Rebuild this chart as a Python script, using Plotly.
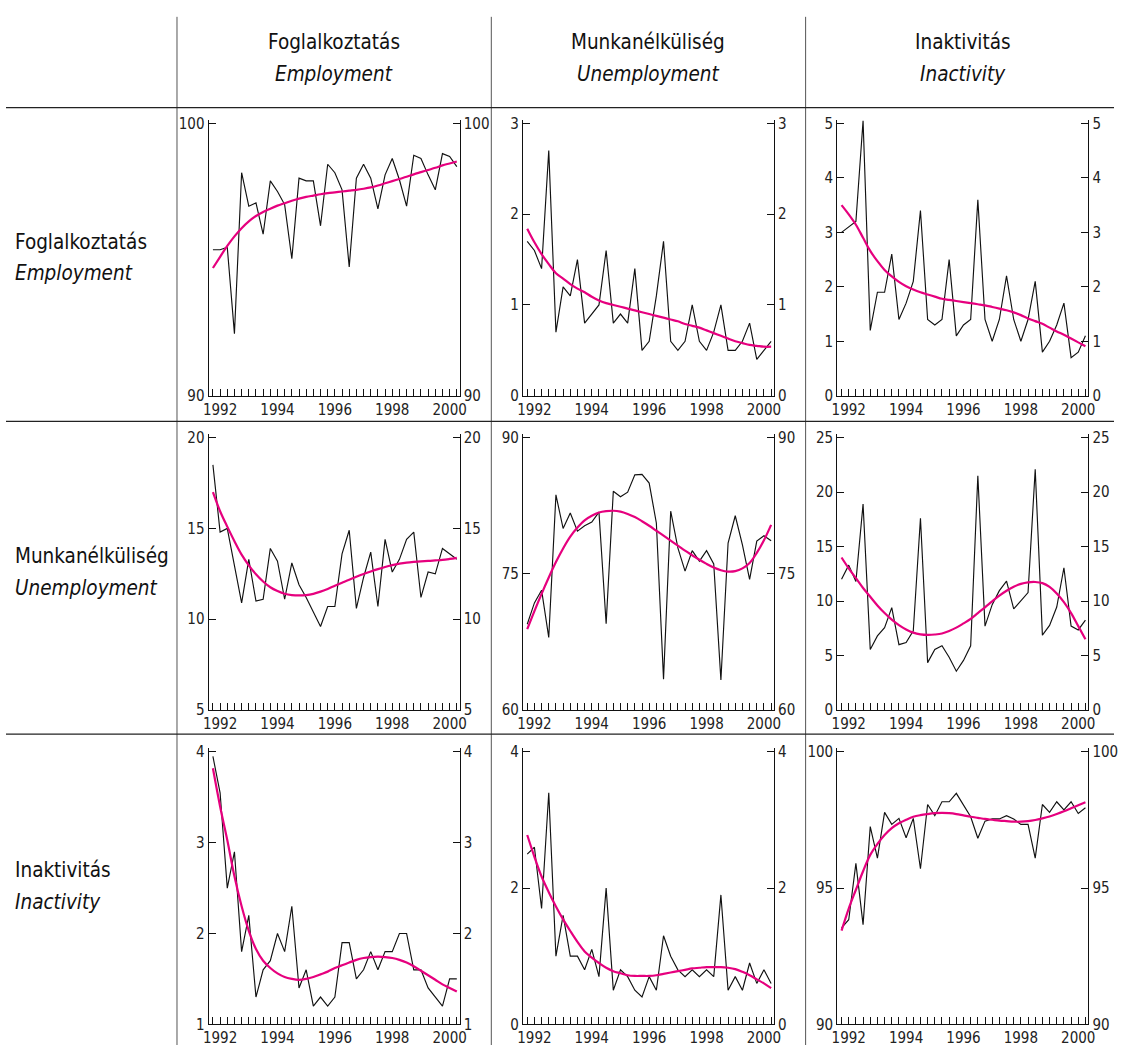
import plotly.graph_objects as go

# ---------------- data ----------------
quarters = list(range(35))  # 1992Q1 ... 2000Q3
year_tick_pos = [1, 9, 17, 25, 33]
year_labels = ["1992", "1994", "1996", "1998", "2000"]

row_titles = [("Foglalkoztatás", "Employment"),
              ("Munkanélküliség", "Unemployment"),
              ("Inaktivitás", "Inactivity")]
col_titles = [("Foglalkoztatás", "Employment"),
              ("Munkanélküliség", "Unemployment"),
              ("Inaktivitás", "Inactivity")]

# row 1: from Employment
emp_emp = [95.36, 95.36, 95.45, 92.28, 98.19, 96.96, 97.08, 95.93, 97.89, 97.50,
           97.02, 95.03, 97.99, 97.89, 97.89, 96.24, 98.50, 98.19, 97.56, 94.73,
           97.99, 98.50, 97.99, 96.86, 98.11, 98.71, 97.93, 96.96, 98.83, 98.71,
           98.11, 97.56, 98.89, 98.79, 98.41]
emp_emp_trend = [94.69, 95.1, 95.5, 95.85, 96.15, 96.4, 96.6, 96.75, 96.87, 96.98,
                 97.07, 97.16, 97.24, 97.3, 97.35, 97.4, 97.44, 97.47, 97.5, 97.53,
                 97.56, 97.6, 97.65, 97.72, 97.8, 97.88, 97.96, 98.04, 98.13, 98.21,
                 98.29, 98.37, 98.46, 98.53, 98.6]
emp_unemp = [1.7, 1.6, 1.4, 2.7, 0.7, 1.2, 1.1, 1.5, 0.8, 0.9,
             1.0, 1.6, 0.8, 0.9, 0.8, 1.4, 0.5, 0.6, 1.1, 1.7,
             0.6, 0.5, 0.6, 1.0, 0.6, 0.5, 0.7, 1.0, 0.5, 0.5,
             0.6, 0.8, 0.4, 0.5, 0.6]
emp_unemp_trend = [1.84, 1.69, 1.56, 1.45, 1.35, 1.29, 1.23, 1.18, 1.14, 1.09,
                   1.05, 1.02, 1.0, 0.98, 0.96, 0.94, 0.92, 0.9, 0.88, 0.86,
                   0.84, 0.82, 0.79, 0.77, 0.75, 0.72, 0.69, 0.66, 0.63, 0.6,
                   0.58, 0.56, 0.55, 0.54, 0.54]
emp_inact = [3.0, 3.1, 3.2, 5.05, 1.2, 1.9, 1.9, 2.6, 1.4, 1.7,
             2.1, 3.4, 1.4, 1.3, 1.4, 2.5, 1.1, 1.3, 1.4, 3.6,
             1.4, 1.0, 1.4, 2.2, 1.4, 1.0, 1.4, 2.1, 0.8, 1.0,
             1.3, 1.7, 0.7, 0.8, 1.1]
emp_inact_trend = [3.5, 3.33, 3.14, 2.9, 2.66, 2.47, 2.31, 2.19, 2.09, 2.01,
                   1.95, 1.9, 1.86, 1.82, 1.78, 1.76, 1.74, 1.72, 1.7, 1.68,
                   1.66, 1.63, 1.6, 1.57, 1.53, 1.48, 1.42, 1.37, 1.32, 1.25,
                   1.18, 1.12, 1.05, 0.98, 0.91]

# row 2: from Unemployment
unemp_emp = [18.5, 14.8, 15.0, 12.9, 10.9, 13.3, 11.0, 11.1, 13.9, 13.2,
             11.1, 13.1, 11.9, 11.2, 10.4, 9.6, 10.7, 10.7, 13.6, 14.9,
             10.6, 12.3, 13.7, 10.7, 14.4, 12.6, 13.3, 14.4, 14.8, 11.2,
             12.6, 12.5, 13.9, 13.6, 13.3]
unemp_emp_trend = [17.0, 15.95, 15.1, 14.3, 13.56, 12.97, 12.48, 12.08, 11.76, 11.55,
                   11.4, 11.33, 11.31, 11.33, 11.4, 11.52, 11.67, 11.84, 12.01, 12.18,
                   12.34, 12.49, 12.63, 12.76, 12.88, 12.98, 13.06, 13.12, 13.16, 13.19,
                   13.21, 13.24, 13.27, 13.32, 13.38]
unemp_unemp = [69.45, 71.8, 73.2, 68.0, 83.7, 80.0, 81.7, 79.7, 80.3, 80.7,
               81.8, 69.5, 84.1, 83.5, 84.0, 85.9, 85.95, 85.0, 80.6, 63.4,
               81.9, 77.85, 75.3, 77.55, 76.4, 77.55, 76.1, 63.3, 78.4, 81.4,
               78.2, 74.4, 78.6, 79.2, 78.65]
unemp_unemp_trend = [68.9, 70.9, 72.8, 74.6, 76.3, 77.8, 79.1, 80.1, 80.9, 81.4,
                     81.75, 81.9, 81.95, 81.85, 81.6, 81.25, 80.8, 80.3, 79.75, 79.2,
                     78.65, 78.1, 77.55, 77.05, 76.55, 76.1, 75.7, 75.4, 75.25, 75.3,
                     75.6, 76.2, 77.3, 78.7, 80.4]
unemp_inact = [12.0, 13.3, 11.8, 18.9, 5.55, 6.8, 7.56, 9.4, 6.0, 6.2,
               7.26, 17.6, 4.35, 5.55, 5.9, 4.85, 3.56, 4.55, 5.9, 21.5,
               7.7, 9.67, 10.96, 11.83, 9.28, 10.06, 10.78, 22.1, 6.87, 7.77,
               9.45, 13.06, 7.71, 7.35, 8.25]
unemp_inact_trend = [14.0, 13.0, 12.1, 11.2, 10.4, 9.6, 8.9, 8.3, 7.8, 7.4,
                     7.1, 6.95, 6.9, 6.93, 7.02, 7.25, 7.56, 7.95, 8.37, 8.9,
                     9.43, 9.98, 10.5, 10.95, 11.32, 11.58, 11.72, 11.75, 11.65, 11.3,
                     10.7, 9.9, 8.9, 7.7, 6.5]

# row 3: from Inactivity
inact_emp = [3.95, 3.55, 2.5, 2.9, 1.8, 2.2, 1.3, 1.6, 1.7, 2.0,
             1.8, 2.3, 1.4, 1.6, 1.2, 1.3, 1.2, 1.3, 1.9, 1.9,
             1.5, 1.6, 1.8, 1.6, 1.8, 1.8, 2.0, 2.0, 1.6, 1.6,
             1.4, 1.3, 1.2, 1.5, 1.5]
inact_emp_trend = [3.82, 3.4, 3.03, 2.63, 2.3, 2.03, 1.83, 1.7, 1.62, 1.56,
                   1.52, 1.5, 1.49, 1.5, 1.52, 1.55, 1.58, 1.62, 1.65, 1.68,
                   1.71, 1.73, 1.74, 1.745, 1.74, 1.73, 1.71, 1.68, 1.64, 1.59,
                   1.54, 1.49, 1.44, 1.4, 1.36]
inact_unemp = [2.5, 2.6, 1.7, 3.4, 1.0, 1.6, 1.0, 1.0, 0.8, 1.1,
               0.7, 2.0, 0.5, 0.8, 0.7, 0.5, 0.4, 0.7, 0.5, 1.3,
               1.0, 0.8, 0.7, 0.8, 0.7, 0.8, 0.7, 1.9, 0.5, 0.7,
               0.5, 0.9, 0.6, 0.8, 0.6]
inact_unemp_trend = [2.78, 2.46, 2.17, 1.94, 1.73, 1.54, 1.37, 1.21, 1.07, 0.98,
                     0.9, 0.83, 0.78, 0.75, 0.72, 0.71, 0.71, 0.71, 0.72, 0.74,
                     0.76, 0.78, 0.8, 0.82, 0.83, 0.84, 0.84, 0.84, 0.83, 0.81,
                     0.77, 0.72, 0.66, 0.6, 0.53]
inact_inact = [93.54, 93.84, 95.91, 93.66, 97.26, 96.1, 97.78, 97.34, 97.56, 96.85,
               97.56, 95.71, 98.07, 97.66, 98.17, 98.17, 98.48, 98.05, 97.62, 96.83,
               97.46, 97.54, 97.54, 97.66, 97.54, 97.34, 97.34, 96.1, 98.07, 97.78,
               98.17, 97.87, 98.17, 97.74, 97.95]
inact_inact_trend = [93.44, 94.25, 94.94, 95.62, 96.22, 96.62, 96.95, 97.2, 97.38, 97.51,
                     97.62, 97.68, 97.72, 97.75, 97.76, 97.75, 97.72, 97.67, 97.62, 97.58,
                     97.54, 97.51, 97.48, 97.46, 97.44, 97.44, 97.46, 97.5, 97.56, 97.63,
                     97.72, 97.82, 97.93, 98.04, 98.15]

panel_series = [
    [emp_emp, emp_unemp, emp_inact],
    [unemp_emp, unemp_unemp, unemp_inact],
    [inact_emp, inact_unemp, inact_inact],
]
panel_trends = [
    [emp_emp_trend, emp_unemp_trend, emp_inact_trend],
    [unemp_emp_trend, unemp_unemp_trend, unemp_inact_trend],
    [inact_emp_trend, inact_unemp_trend, inact_inact_trend],
]
panel_yticks = [
    [[90, 100], [0, 1, 2, 3], [0, 1, 2, 3, 4, 5]],
    [[5, 10, 15, 20], [60, 75, 90], [0, 5, 10, 15, 20, 25]],
    [[1, 2, 3, 4], [0, 2, 4], [90, 95, 100]],
]

# ---------------- layout geometry (pixels) ----------------
W, H = 1121, 1054
col_left = [205, 523, 841]
plot_w = 254
row_toptick = [120, 438.5, 757]
plot_h = 276
pad_top = 3.5

FONT = "DejaVu Sans Condensed, Liberation Sans Narrow, Arial Narrow, sans-serif"
BLACK_LINE = "#111111"
PINK = "#E6007E"
TXT = "#222222"


def px(x):
    return x / W


def py(y):
    return 1 - y / H


fig = go.Figure()
layout = {}

for r in range(3):
    for c in range(3):
        k = r * 3 + c
        xn = k + 1
        yl = 2 * k + 1
        yr = 2 * k + 2
        xid = "x" if xn == 1 else f"x{xn}"
        ylid = "y" if yl == 1 else f"y{yl}"
        yrid = f"y{yr}"
        lo, hi = panel_yticks[r][c][0], panel_yticks[r][c][-1]
        ext = (hi - lo) * pad_top / plot_h
        yrange = [lo, hi + ext]

        fig.add_trace(go.Scatter(x=quarters, y=panel_series[r][c], mode="lines",
                                 line=dict(color=BLACK_LINE, width=1.15),
                                 xaxis=xid, yaxis=ylid, showlegend=False,
                                 hoverinfo="skip"))
        fig.add_trace(go.Scatter(x=quarters, y=panel_trends[r][c], mode="lines",
                                 line=dict(color=PINK, width=2.2, shape="spline"),
                                 xaxis=xid, yaxis=yrid, showlegend=False,
                                 hoverinfo="skip"))

        x0 = col_left[c]
        top = row_toptick[r] - pad_top
        bot = row_toptick[r] + plot_h
        tickvals = list(range(0, 35))
        ticktext = [year_labels[year_tick_pos.index(q)] if q in year_tick_pos else ""
                    for q in tickvals]
        layout["xaxis" if xn == 1 else f"xaxis{xn}"] = dict(
            domain=[px(x0), px(x0 + plot_w)], anchor=ylid,
            range=[-0.6, 34.4], tickmode="array", tickvals=tickvals,
            ticktext=ticktext, ticks="inside", ticklen=7, tickwidth=1,
            tickcolor="#111", showline=True, linecolor="#111", linewidth=1.2,
            showgrid=False, zeroline=False, tickangle=0,
            tickfont=dict(family=FONT, size=15, color=TXT), fixedrange=True)
        common_y = dict(range=yrange, tickmode="array", tickvals=panel_yticks[r][c],
                        ticks="inside", ticklen=7, tickwidth=1, tickcolor="#111",
                        showline=True, linecolor="#111", linewidth=1.2,
                        showgrid=False, zeroline=False,
                        tickfont=dict(family=FONT, size=15, color=TXT),
                        fixedrange=True)
        layout["yaxis" if yl == 1 else f"yaxis{yl}"] = dict(
            domain=[py(bot), py(top)], anchor=xid, side="left", **common_y)
        layout[f"yaxis{yr}"] = dict(overlaying=ylid, anchor=xid, side="right",
                                    **common_y)

# separator lines (table frame)
shapes = []
for xs in [173, 491, 809]:
    shapes.append(dict(type="line", xref="paper", yref="paper",
                       x0=px(xs), x1=px(xs), y0=py(12), y1=0,
                       line=dict(color="#555555", width=1)))
for ys in [104, 422, 739]:
    shapes.append(dict(type="line", xref="paper", yref="paper",
                       x0=0, x1=1, y0=py(ys), y1=py(ys),
                       line=dict(color="#222222", width=1.2)))

TITLE_SIZE = 20.5
annotations = []
for c in range(3):
    cx = col_left[c] + plot_w / 2
    for j, (txt, yy) in enumerate([(col_titles[c][0], 38),
                                   (f"<i>{col_titles[c][1]}</i>", 70)]):
        annotations.append(dict(
            text=txt, xref="paper", yref="paper", x=px(cx), y=py(yy),
            xanchor="center", yanchor="middle", showarrow=False,
            font=dict(family=FONT, size=TITLE_SIZE, color="#111")))
for r in range(3):
    base = row_toptick[r] + 120
    for j, (txt, yy) in enumerate([(row_titles[r][0], base),
                                   (f"<i>{row_titles[r][1]}</i>", base + 32)]):
        annotations.append(dict(
            text=txt, xref="paper", yref="paper", x=px(7), y=py(yy),
            xanchor="left", yanchor="middle", showarrow=False,
            font=dict(family=FONT, size=TITLE_SIZE, color="#111")))

fig.update_layout(
    width=W, height=H, margin=dict(l=0, r=0, t=0, b=0),
    paper_bgcolor="white", plot_bgcolor="white",
    showlegend=False, hovermode=False,
    shapes=shapes, annotations=annotations,
    font=dict(family=FONT, color=TXT),
    **layout)

fig.write_html("out.html", config={"displayModeBar": False},
               post_script="document.body.style.margin='0';document.body.style.overflow='hidden';")
